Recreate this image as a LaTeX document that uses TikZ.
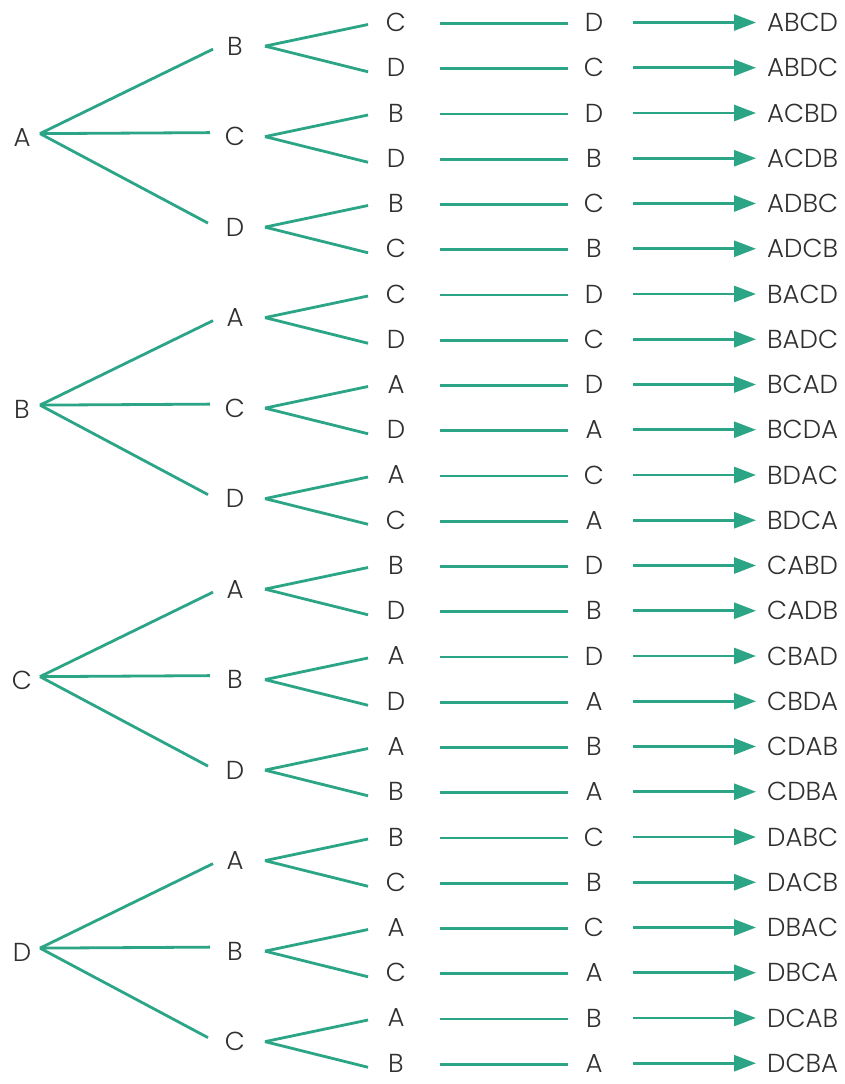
\documentclass[tikz,border=0pt]{standalone}
\usepackage{fontspec}
\setmainfont{Poppins Light}
\usetikzlibrary{arrows.meta}
\definecolor{branch}{HTML}{2BA585}
\definecolor{ink}{HTML}{303030}
\tikzset{
  lbl/.style={text=ink, font=\fontsize{26}{28}\selectfont, inner sep=0pt},
  ln/.style={draw=branch, line width=2.8pt},
  arr/.style={ln, -{Triangle[length=22pt,width=16pt]}},
}
\begin{document}
\begin{tikzpicture}[x=1pt,y=-1pt]
\useasboundingbox[fill=white] (0,0) rectangle (844,1084);
% leaves: third letter, fourth letter, full arrangement
\foreach \a/\b/\c/\d [count=\i from 0] in {
  A/B/C/D, A/B/D/C, A/C/B/D, A/C/D/B, A/D/B/C, A/D/C/B,
  B/A/C/D, B/A/D/C, B/C/A/D, B/C/D/A, B/D/A/C, B/D/C/A,
  C/A/B/D, C/A/D/B, C/B/A/D, C/B/D/A, C/D/A/B, C/D/B/A,
  D/A/B/C, D/A/C/B, D/B/A/C, D/B/C/A, D/C/A/B, D/C/B/A} {
  \pgfmathsetmacro\y{22.5+45.25*\i}
  \node[lbl] (t\i) at (396,\y) {\c};
  \node[lbl] (f\i) at (594,\y) {\d};
  \node[lbl,anchor=west] (p\i) at (767,\y) {\a\b\c\d};
  \draw[ln] ([xshift=44pt,yshift=-1pt]t\i.center) -- ([xshift=-26pt,yshift=-1pt]f\i.center);
  \draw[arr] ([xshift=39pt]f\i.center) -- ([xshift=-11pt]p\i.west);
}
% second letters
\foreach \b [count=\j from 0] in {B,C,D,A,C,D,A,B,D,A,B,C} {
  \pgfmathsetmacro\y{22.5+45.25*(2*\j+0.5)+1}
  \pgfmathtruncatemacro\ka{2*\j}
  \pgfmathtruncatemacro\kb{2*\j+1}
  \node[lbl] (s\j) at (235,\y) {\b};
  \draw[ln] ([xshift=30pt]s\j.center) -- ([xshift=-28pt,yshift=-2pt]t\ka.center);
  \draw[ln] ([xshift=30pt]s\j.center) -- ([xshift=-28pt,yshift=-4pt]t\kb.center);
}
% first letters
\foreach \a [count=\g from 0] in {A,B,C,D} {
  \pgfmathsetmacro\y{22.5+45.25*(6*\g+2.5)+2}
  \pgfmathtruncatemacro\ma{3*\g}
  \pgfmathtruncatemacro\mb{3*\g+1}
  \pgfmathtruncatemacro\mc{3*\g+2}
  \node[lbl] (r\g) at (22,\y) {\a};
  \draw[ln] ([xshift=18pt,yshift=4pt]r\g.center) -- ([xshift=-22pt,yshift=-3pt]s\ma.center);
  \draw[ln] ([xshift=18pt,yshift=4pt]r\g.center) -- ([xshift=-25pt,yshift=4pt]s\mb.center);
  \draw[ln] ([xshift=18pt,yshift=4pt]r\g.center) -- ([xshift=-27pt,yshift=4pt]s\mc.center);
}
\end{tikzpicture}
\end{document}
